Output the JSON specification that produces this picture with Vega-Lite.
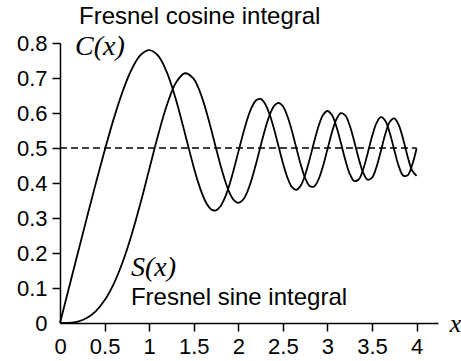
{
  "$schema": "https://vega.github.io/schema/vega-lite/v6.json",
  "autosize": {"type": "none"},
  "padding": {"left": 60, "top": 43, "right": 23, "bottom": 38},
  "width": 378,
  "height": 280,
  "background": "white",
  "config": {
    "view": {"stroke": null},
    "axis": {
      "grid": false,
      "domainColor": "black",
      "domainWidth": 1.5,
      "tickColor": "black",
      "tickWidth": 1.5,
      "tickSize": 8,
      "labelColor": "black",
      "labelFont": "Liberation Sans",
      "labelFontSize": 22,
      "labelFlush": false,
      "labelOverlap": false
    }
  },
  "datasets": {
    "fresnel": [
      {"x": 0.0, "C": 0.0, "S": 0.0},
      {"x": 0.1, "C": 0.1, "S": 0.00052},
      {"x": 0.2, "C": 0.19992, "S": 0.00419},
      {"x": 0.3, "C": 0.2994, "S": 0.01412},
      {"x": 0.4, "C": 0.39748, "S": 0.03336},
      {"x": 0.5, "C": 0.49234, "S": 0.06473},
      {"x": 0.6, "C": 0.5811, "S": 0.11054},
      {"x": 0.7, "C": 0.65965, "S": 0.17214},
      {"x": 0.8, "C": 0.72284, "S": 0.24934},
      {"x": 0.9, "C": 0.76482, "S": 0.33978},
      {"x": 1.0, "C": 0.77989, "S": 0.43826},
      {"x": 1.1, "C": 0.76381, "S": 0.5365},
      {"x": 1.2, "C": 0.71544, "S": 0.6234},
      {"x": 1.3, "C": 0.63855, "S": 0.68633},
      {"x": 1.4, "C": 0.5431, "S": 0.71353},
      {"x": 1.5, "C": 0.44526, "S": 0.6975},
      {"x": 1.55, "C": 0.40177, "S": 0.67318},
      {"x": 1.6, "C": 0.36546, "S": 0.63889},
      {"x": 1.65, "C": 0.33882, "S": 0.59673},
      {"x": 1.7, "C": 0.32383, "S": 0.5492},
      {"x": 1.75, "C": 0.32196, "S": 0.49938},
      {"x": 1.8, "C": 0.33363, "S": 0.45094},
      {"x": 1.85, "C": 0.35839, "S": 0.4077},
      {"x": 1.9, "C": 0.39447, "S": 0.37335},
      {"x": 1.95, "C": 0.43906, "S": 0.35115},
      {"x": 2.0, "C": 0.48825, "S": 0.34342},
      {"x": 2.05, "C": 0.53742, "S": 0.35125},
      {"x": 2.1, "C": 0.58157, "S": 0.37426},
      {"x": 2.15, "C": 0.61588, "S": 0.41031},
      {"x": 2.2, "C": 0.6363, "S": 0.45569},
      {"x": 2.25, "C": 0.64014, "S": 0.5053},
      {"x": 2.3, "C": 0.62657, "S": 0.55315},
      {"x": 2.35, "C": 0.59698, "S": 0.59311},
      {"x": 2.4, "C": 0.55497, "S": 0.6197},
      {"x": 2.45, "C": 0.50614, "S": 0.62894},
      {"x": 2.5, "C": 0.45742, "S": 0.61919},
      {"x": 2.55, "C": 0.41615, "S": 0.59154},
      {"x": 2.6, "C": 0.38894, "S": 0.54999},
      {"x": 2.65, "C": 0.38046, "S": 0.50107},
      {"x": 2.7, "C": 0.39249, "S": 0.45292},
      {"x": 2.75, "C": 0.42326, "S": 0.41399},
      {"x": 2.8, "C": 0.46749, "S": 0.39153},
      {"x": 2.85, "C": 0.51706, "S": 0.39003},
      {"x": 2.9, "C": 0.56238, "S": 0.41014},
      {"x": 2.95, "C": 0.59422, "S": 0.44812},
      {"x": 3.0, "C": 0.60572, "S": 0.49631},
      {"x": 3.05, "C": 0.5941, "S": 0.54446},
      {"x": 3.1, "C": 0.5616, "S": 0.58182},
      {"x": 3.15, "C": 0.51541, "S": 0.59962},
      {"x": 3.2, "C": 0.46632, "S": 0.59335},
      {"x": 3.25, "C": 0.42634, "S": 0.56422},
      {"x": 3.3, "C": 0.40569, "S": 0.51929},
      {"x": 3.35, "C": 0.41002, "S": 0.47004},
      {"x": 3.4, "C": 0.43849, "S": 0.42965},
      {"x": 3.45, "C": 0.48354, "S": 0.40938},
      {"x": 3.5, "C": 0.53257, "S": 0.41525},
      {"x": 3.55, "C": 0.5713, "S": 0.44586},
      {"x": 3.6, "C": 0.58795, "S": 0.49231},
      {"x": 3.65, "C": 0.57713, "S": 0.54044},
      {"x": 3.7, "C": 0.54195, "S": 0.57498},
      {"x": 3.75, "C": 0.49359, "S": 0.58453},
      {"x": 3.8, "C": 0.44809, "S": 0.56562},
      {"x": 3.85, "C": 0.42111, "S": 0.52442},
      {"x": 3.9, "C": 0.42233, "S": 0.4752},
      {"x": 3.95, "C": 0.45162, "S": 0.43566},
      {"x": 4.0, "C": 0.49843, "S": 0.42052}
    ],
    "midline": [
      {"x": 0, "x2": 4, "value": 0.5}
    ],
    "notes": [
      {"x": 0.213, "value": 0.874, "text": "Fresnel cosine integral"},
      {"x": 0.796, "value": 0.071, "text": "Fresnel sine integral"}
    ],
    "symbols": [
      {"x": 0.168, "value": 0.789, "text": "C(x)"},
      {"x": 0.796, "value": 0.157, "text": "S(x)"}
    ]
  },
  "encoding": {
    "x": {
      "field": "x",
      "type": "quantitative",
      "scale": {"domain": [0, 4.24], "nice": false, "zero": false},
      "axis": {
        "values": [0, 0.5, 1, 1.5, 2, 2.5, 3, 3.5, 4],
        "format": "~g",
        "labelPadding": 5,
        "tickOpacity": {"condition": {"test": "datum.value === 0", "value": 0}, "value": 1},
        "title": "x",
        "titleFont": "Liberation Serif",
        "titleFontStyle": "italic",
        "titleFontWeight": "normal",
        "titleFontSize": 26,
        "titleColor": "black",
        "titleAlign": "center",
        "titleBaseline": "middle",
        "titleX": 395,
        "titleY": 0
      }
    },
    "y": {
      "field": "value",
      "type": "quantitative",
      "scale": {"domain": [0, 0.8], "nice": false},
      "axis": {
        "values": [0, 0.1, 0.2, 0.3, 0.4, 0.5, 0.6, 0.7, 0.8],
        "format": "~g",
        "labelPadding": 5,
        "tickOpacity": {"condition": {"test": "datum.value === 0", "value": 0}, "value": 1},
        "title": null
      }
    }
  },
  "layer": [
    {
      "data": {"name": "fresnel"},
      "transform": [{"fold": ["C", "S"], "as": ["curve", "value"]}],
      "mark": {"type": "line", "color": "black", "strokeWidth": 1.8, "interpolate": "catmull-rom", "clip": false},
      "encoding": {
        "detail": {"field": "curve", "type": "nominal"}
      }
    },
    {
      "data": {"name": "midline"},
      "mark": {"type": "rule", "strokeDash": [7, 4], "strokeWidth": 1.4, "color": "black"},
      "encoding": {
        "x2": {"field": "x2"}
      }
    },
    {
      "data": {"name": "notes"},
      "mark": {"type": "text", "align": "left", "baseline": "middle", "font": "Liberation Sans", "fontSize": 24, "color": "black"},
      "encoding": {
        "text": {"field": "text"}
      }
    },
    {
      "data": {"name": "symbols"},
      "mark": {"type": "text", "align": "left", "baseline": "middle", "font": "Liberation Serif", "fontStyle": "italic", "fontSize": 28, "color": "black"},
      "encoding": {
        "text": {"field": "text"}
      }
    }
  ]
}
